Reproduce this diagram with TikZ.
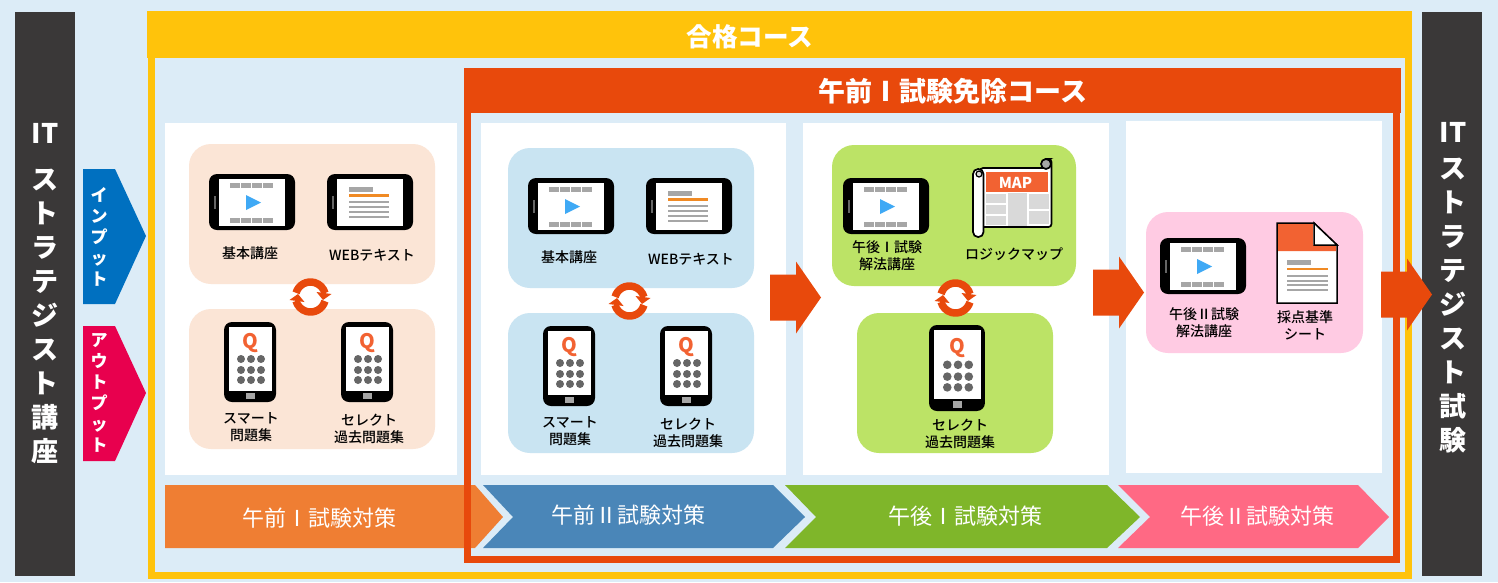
\documentclass[tikz,border=0pt]{standalone}
\usepackage{fontspec}
\setmainfont{Noto Sans CJK JP}
\newfontfamily\cjkmedium{Noto Sans CJK JP Medium}
\usepackage{xcolor}
\usetikzlibrary{calc}

\definecolor{skybg}{HTML}{DCECF7}
\definecolor{darkbar}{HTML}{3A3838}
\definecolor{coursegold}{HTML}{FFC30B}
\definecolor{courseorange}{HTML}{E8490C}
\definecolor{inputblue}{HTML}{0070C0}
\definecolor{outputred}{HTML}{E8004E}
\definecolor{peachbox}{HTML}{FBE5D6}
\definecolor{bluebox}{HTML}{C9E4F2}
\definecolor{greenbox}{HTML}{BCE366}
\definecolor{pinkbox}{HTML}{FFCBE3}
\definecolor{stageorange}{HTML}{EF7E33}
\definecolor{stageblue}{HTML}{4A86B8}
\definecolor{stagegreen}{HTML}{7FB62A}
\definecolor{stagepink}{HTML}{FF6984}
\definecolor{iconbar}{HTML}{A6A6A6}
\definecolor{icondot}{HTML}{666666}
\definecolor{iconcell}{HTML}{D9D9D9}
\definecolor{iconred}{HTML}{F26232}
\definecolor{iconorange}{HTML}{F08A24}
\definecolor{playblue}{HTML}{3FA9F5}

\tikzset{
  bubble/.style={rounded corners=22},
  iconlabel/.style={font=\fontsize{14}{17.3}\selectfont\cjkmedium, align=center, inner sep=0pt},
  sidelabel/.style={font=\fontsize{27}{34}\selectfont\bfseries, text=white, align=center, inner sep=0pt},
  flaglabel/.style={font=\fontsize{17}{21}\selectfont\bfseries, text=white, align=center, inner sep=0pt},
  stagelabel/.style={font=\fontsize{22}{26}\selectfont, text=white, inner sep=0pt},
  tabletbody/.pic={
    \fill[black, rounded corners=8] (0,0) rectangle (86,56);
    \fill[white] (10,5) rectangle (76,52);
    \fill[icondot] (5,22) rectangle (7,35);
  },
  videotablet/.pic={
    \pic {tabletbody};
    \foreach \x in {21,32,43,54} {
      \fill[iconbar] (\x,9) rectangle ++(10,5);
      \fill[iconbar] (\x,44) rectangle ++(10,5);
    }
    \fill[playblue] (37,21) -- (52,28.5) -- (37,36) -- cycle;
  },
  texttablet/.pic={
    \pic {tabletbody};
    \fill[iconbar] (22,13) rectangle (46,18);
    \fill[iconorange] (22,20) rectangle (62,23);
    \foreach \y in {27,32,37,42} \fill[iconbar] (22,\y) rectangle (62,\y+2);
  },
  quizphone/.pic={
    \fill[black, rounded corners=8] (0,0) rectangle (52,80);
    \fill[white] (5,5) rectangle (48,69);
    \fill[iconbar] (22,71) rectangle (31,77);
    \node[text=iconred, font=\fontsize{20}{20}\selectfont\bfseries, inner sep=0pt] (q) at (26,21) {Q};
    \foreach \x in {17,27,37} \foreach \y in {37,48,58} \fill[icondot] (\x,\y) circle (4);
  },
  syncarrows/.pic={
    \draw[courseorange, line width=7.5] (196:15) arc[start angle=196, end angle=345, radius=15];
    \draw[courseorange, line width=7.5] (16:15) arc[start angle=16, end angle=165, radius=15];
    \fill[courseorange] (6,-5) -- (21,-3) -- (12.5,3) -- cycle;
    \fill[courseorange] (-6,5) -- (-21,3) -- (-12.5,-3) -- cycle;
  },
  mapscroll/.pic={
    \draw[black, line width=1.7, fill=white, rounded corners=3] (8,10) -- (74,10) -- (74,1) -- (79.5,1) -- (79.5,69) -- (8,69) -- cycle;
    \draw[black, line width=1.7, fill=iconbar] (74,6) circle (5);
    \draw[black, line width=1.7, fill=white, rounded corners=5] (1,11) rectangle (11.5,79);
    \draw[black, line width=1.2, fill=iconcell] (7,16) circle (3);
    \fill[iconred] (14,14) rectangle (76,34);
    \node[text=white, font=\fontsize{15}{15}\selectfont\bfseries, inner sep=0pt] (maptitle) at (43.5,25) {MAP};
    \foreach \y/\h in {36/9,47/9,58/9} \fill[iconcell] (14,\y) rectangle ++(20,\h);
    \fill[iconcell] (36,35) rectangle (55,67.5);
    \fill[iconcell] (57,36) rectangle (77,51);
    \fill[iconcell] (57,53) rectangle (77,66);
  },
  scoresheet/.pic={
    \draw[black, line width=1.5, fill=white] (0,0) -- (37,0) -- (60,22) -- (60,80) -- (0,80) -- cycle;
    \fill[iconred] (1,1) -- (36,1) -- (36,22) -- (59,22) -- (59,28) -- (1,28) -- cycle;
    \draw[black, line width=1.5, fill=white] (37,0) -- (60,22) -- (37,22) -- cycle;
    \fill[iconbar] (10,37) rectangle (34,42);
    \fill[iconorange] (10,45) rectangle (51,47);
    \foreach \y in {52,57,61,66} \fill[iconbar] (10,\y) rectangle (51,\y+2);
  },
  bigarrow/.pic={
    \fill[courseorange] (0,-23) -- (26,-23) -- (26,-36) -- (51,0) -- (26,36) -- (26,23) -- (0,23) -- cycle;
  }
}

\begin{document}
\begin{tikzpicture}[x=1pt, y=-1pt]
  \useasboundingbox (0,0) rectangle (1498,582);
  \fill[skybg] (0,0) rectangle (1498,582);

  % side bars
  \fill[darkbar] (15,12) rectangle (75,576);
  \fill[darkbar] (1422,12) rectangle (1482,576);
  \node[sidelabel] (startlabel) at (45,293.5) {IT\\[12pt]ス\\ト\\ラ\\テ\\ジ\\ス\\ト\\講\\座};
  \node[sidelabel] (goallabel) at (1453,288) {IT\\[2pt]ス\\ト\\ラ\\テ\\ジ\\ス\\ト\\試\\験};

  % input and output flags
  \fill[inputblue] (83,169) -- (115,169) -- (146,236) -- (115,304) -- (83,304) -- cycle;
  \fill[outputred] (83,326) -- (115,326) -- (146,393) -- (115,461) -- (83,461) -- cycle;
  \node[flaglabel] (inputlabel) at (99,237) {イ\\ン\\プ\\ッ\\ト};
  \node[flaglabel] (outputlabel) at (99,393) {ア\\ウ\\ト\\プ\\ッ\\ト};

  % stage one arrow sits under the course frame
  \fill[stageorange] (165,485) -- (475,485) -- (503,517) -- (475,548) -- (165,548) -- cycle;

  % course frames
  \draw[coursegold, line width=7] (151.5,50) rectangle (1408.5,575.5);
  \fill[coursegold] (147,11) rectangle (1412,58);
  \node[font=\fontsize{25.6}{30}\selectfont\bfseries, text=white, inner sep=0pt] (maincourse) at (750,37) {合格コース};
  \draw[courseorange, line width=7] (467.5,100) rectangle (1396.5,559.5);
  \fill[courseorange] (464,68) rectangle (1401,113);
  \node[font=\fontsize{27}{30}\selectfont\bfseries, text=white, inner sep=0pt] (examcourse) at (953,91) {午前Ⅰ試験免除コース};

  % white panels
  \fill[white] (165,123) rectangle (457,475);
  \fill[white] (481,123) rectangle (786,475);
  \fill[white] (803,123) rectangle (1109,475);
  \fill[white] (1126,121) rectangle (1382,473);

  % morning panels share one layout
  \foreach \dx/\dy/\boxcol in {0/0/peachbox,319/4/bluebox} {
    \begin{scope}[shift={(\dx,\dy)}]
      \fill[\boxcol, bubble] (189,144) rectangle (435,284);
      \fill[\boxcol, bubble] (189,309) rectangle (435,449);
      \pic at (209,174) {videotablet};
      \pic at (327,174) {texttablet};
      \pic at (224,322) {quizphone};
      \pic at (341,322) {quizphone};
      \pic at (310.5,297) {syncarrows};
      \node[iconlabel] (lecture\dx) at (250,253) {基本講座};
      \node[iconlabel] (webtext\dx) at (372,255) {WEBテキスト};
      \node[iconlabel] (smart\dx) at (251,427) {スマート\\問題集};
      \node[iconlabel] (select\dx) at (369,429) {セレクト\\過去問題集};
    \end{scope}
  }

  % afternoon one panel
  \fill[greenbox, bubble] (832,145) rectangle (1076,286);
  \fill[greenbox, bubble] (857,313) rectangle (1053,453);
  \pic at (843,178) {videotablet};
  \pic at (972,158) {mapscroll};
  \pic[scale=1.075] at (929,325) {quizphone};
  \pic at (955.5,298) {syncarrows};
  \node[iconlabel] (pmonelabel) at (887,256) {午後Ⅰ試験\\解法講座};
  \node[iconlabel] (maplabel) at (1014,254) {ロジックマップ};
  \node[iconlabel] (selectthree) at (960,434) {セレクト\\過去問題集};

  % afternoon two panel
  \fill[pinkbox, bubble] (1146,212) rectangle (1363,353);
  \pic at (1160,238) {videotablet};
  \pic at (1277,223) {scoresheet};
  \node[iconlabel] (pmtwolabel) at (1204,323) {午後Ⅱ試験\\解法講座};
  \node[iconlabel] (sheetlabel) at (1305,325) {採点基準\\シート};

  % stage arrows
  \fill[stageblue] (483,485) -- (773,485) -- (805,517) -- (773,548) -- (483,548) -- (513,517) -- cycle;
  \fill[stagegreen] (785,485) -- (1107,485) -- (1140,517) -- (1107,548) -- (785,548) -- (816,517) -- cycle;
  \fill[stagepink] (1118,485) -- (1358,485) -- (1389,517) -- (1358,548) -- (1118,548) -- (1150,517) -- cycle;
  \node[stagelabel] (stageone) at (319,518) {午前Ⅰ試験対策};
  \node[stagelabel] (stagetwo) at (628,515) {午前Ⅱ試験対策};
  \node[stagelabel] (stagethree) at (965,516) {午後Ⅰ試験対策};
  \node[stagelabel] (stagefour) at (1257,516) {午後Ⅱ試験対策};

  % big arrows between panels
  \pic at (770,297.5) {bigarrow};
  \pic at (1093,292.5) {bigarrow};
  \pic at (1381,294.5) {bigarrow};
\end{tikzpicture}
\end{document}
